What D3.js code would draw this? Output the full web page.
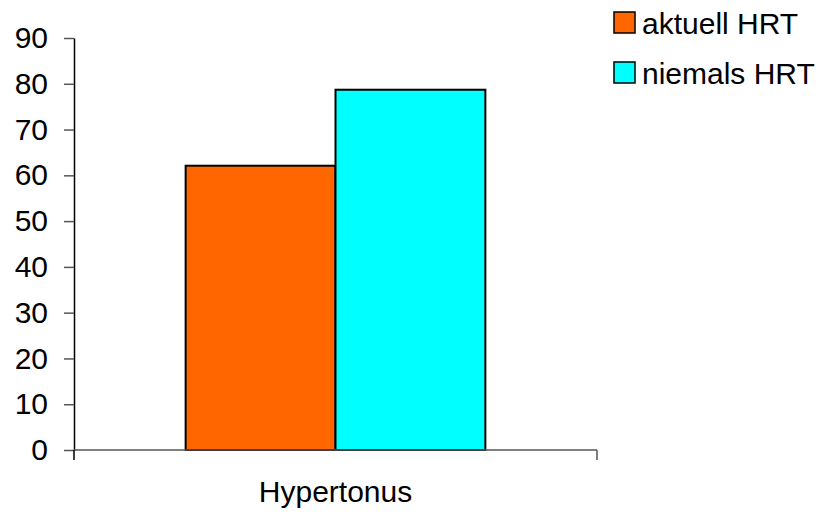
<!DOCTYPE html>
<html>
<head>
<meta charset="utf-8">
<script src="https://cdn.jsdelivr.net/npm/d3@7"></script>
<style>
  body { margin: 0; background: #fff; }
  text { font-family: Arial, "Liberation Sans", sans-serif; }
</style>
</head>
<body>
<div id="chart"></div>
<script>
const categories = ['Hypertonus'];
const seriesNames = ['aktuell HRT', 'niemals HRT'];
const seriesColors = ['#ff6600', '#00ffff'];
const aktuell = [62.1];
const niemals = [78.7];
const yTicks = [0, 10, 20, 30, 40, 50, 60, 70, 80, 90];

const width = 824, height = 515;
const plotLeft = 74, plotRight = 597, plotTop = 38, plotBottom = 450;
const fontSize = 30;

const svg = d3.select('#chart').append('svg')
    .attr('width', width)
    .attr('height', height);

const x = d3.scaleBand().domain(categories).range([plotLeft, plotRight]);
const xs = d3.scaleBand().domain(seriesNames).range([0, x.bandwidth()]).paddingInner(0).paddingOuter(0.745);
const y = d3.scaleLinear().domain([0, 90]).range([plotBottom, plotTop]);

// y axis
const yAxis = svg.append('g')
    .attr('transform', `translate(${plotLeft},0)`)
    .call(d3.axisLeft(y).tickValues(yTicks).tickSize(10).tickSizeOuter(0).tickPadding(16));
yAxis.select('.domain').attr('stroke', '#000').attr('stroke-width', 1.5);
yAxis.selectAll('.tick line').attr('stroke', '#555').attr('stroke-width', 1.5);
yAxis.selectAll('.tick text').attr('font-size', fontSize).attr('fill', '#000')
    .attr('font-family', 'Arial, "Liberation Sans", sans-serif');

// bars
const rows = seriesNames.map((s, i) => ({ name: s, color: seriesColors[i], values: i === 0 ? aktuell : niemals }));
rows.forEach(r => {
  svg.selectAll(null)
    .data(categories.map((c, j) => ({ cat: c, v: r.values[j] })))
    .enter()
    .append('rect')
    .attr('x', d => x(d.cat) + xs(r.name))
    .attr('width', xs.bandwidth())
    .attr('y', d => y(d.v))
    .attr('height', d => y(0) - y(d.v))
    .attr('fill', r.color)
    .attr('stroke', '#000')
    .attr('stroke-width', 2);
});

// x axis
const xAxis = svg.append('g')
    .attr('transform', `translate(0,${plotBottom})`);
xAxis.append('line')
    .attr('x1', plotLeft).attr('x2', plotRight)
    .attr('stroke', '#555').attr('stroke-width', 1.5);
[plotLeft, plotRight].forEach(px => {
  xAxis.append('line')
    .attr('x1', px).attr('x2', px).attr('y1', 0).attr('y2', 10)
    .attr('stroke', px === plotLeft ? '#000' : '#555').attr('stroke-width', 1.5);
});
xAxis.selectAll('text.cat')
    .data(categories)
    .enter()
    .append('text')
    .attr('class', 'cat')
    .attr('x', d => x(d) + x.bandwidth() / 2)
    .attr('y', 52)
    .attr('text-anchor', 'middle')
    .attr('font-size', fontSize)
    .text(d => d);

// legend
const legend = svg.append('g').attr('transform', 'translate(614,12)');
rows.forEach((r, i) => {
  const g = legend.append('g').attr('transform', `translate(0,${i * 50})`);
  g.append('rect')
    .attr('width', 21).attr('height', 21)
    .attr('fill', r.color)
    .attr('stroke', '#000').attr('stroke-width', 1.5);
  g.append('text')
    .attr('x', 28).attr('y', 22)
    .attr('font-size', fontSize)
    .text(r.name);
});
</script>
</body>
</html>
